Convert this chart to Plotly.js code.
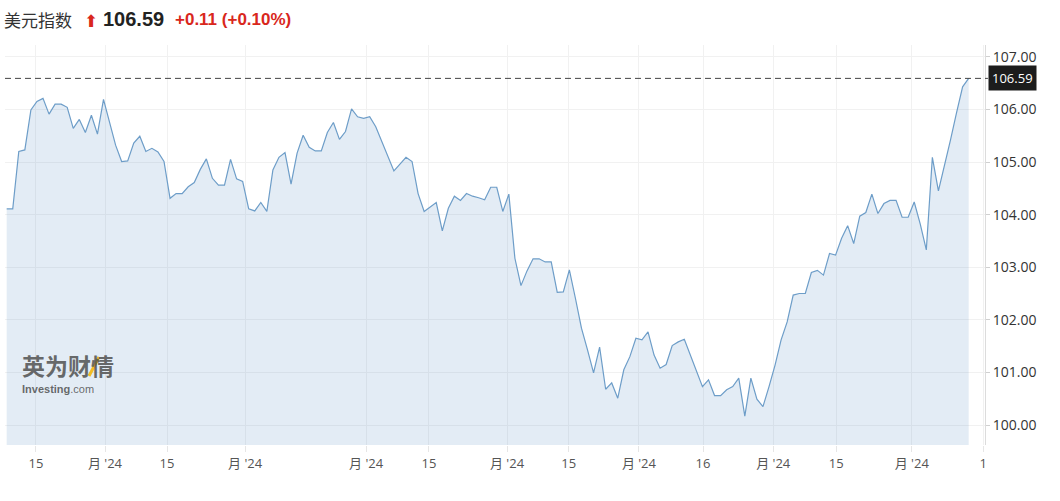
<!DOCTYPE html>
<html>
<head>
<meta charset="utf-8">
<script src="https://cdn.plot.ly/plotly-3.0.1.min.js"></script>
<style>
  html, body { margin: 0; padding: 0; background: #fff; }
  #chart { width: 1060px; height: 501px; }
</style>
</head>
<body>
<div id="chart"></div>
<script>
// Daily closing values of the US Dollar Index
const values = [
  104.11, 104.11, 105.20, 105.23, 105.99, 106.15, 106.21, 105.91, 106.10, 106.10,
  106.04, 105.64, 105.81, 105.56, 105.89, 105.53, 106.19, 105.77, 105.32, 105.01,
  105.02, 105.36, 105.49, 105.20, 105.26, 105.19, 105.01, 104.31, 104.40, 104.40,
  104.53, 104.61, 104.86, 105.06, 104.69, 104.56, 104.56, 105.05, 104.68, 104.63,
  104.11, 104.07, 104.23, 104.06, 104.85, 105.09, 105.18, 104.58, 105.17, 105.51,
  105.28, 105.21, 105.21, 105.56, 105.75, 105.43, 105.58, 106.01, 105.86, 105.83,
  105.86, 105.67, 105.39, 105.10, 104.83, 104.96, 105.09, 105.01, 104.40, 104.06,
  104.15, 104.23, 103.69, 104.12, 104.35, 104.27, 104.40, 104.35, 104.32, 104.28,
  104.52, 104.52, 104.06, 104.39, 103.17, 102.65, 102.93, 103.16, 103.16, 103.10,
  103.10, 102.52, 102.53, 102.95, 102.41, 101.84, 101.43, 100.99, 101.48, 100.68,
  100.80, 100.51, 101.05, 101.30, 101.65, 101.62, 101.77, 101.33, 101.08, 101.15,
  101.51, 101.58, 101.63, 101.33, 101.06, 100.73, 100.86, 100.56, 100.56, 100.67,
  100.73, 100.89, 100.17, 100.89, 100.49, 100.35, 100.73, 101.14, 101.62, 101.96,
  102.47, 102.50, 102.50, 102.90, 102.94, 102.85, 103.26, 103.23, 103.55, 103.79,
  103.45, 103.97, 104.04, 104.39, 104.02, 104.21, 104.27, 104.27, 103.95, 103.95,
  104.24, 103.82, 103.33, 105.09, 104.45, 104.91, 105.42, 105.94, 106.43, 106.59
];

// x-axis tick positions (in trading-day index units) and their labels
const tickPositions = [4.84, 16.25, 26.5, 39.4, 59.4, 69.8, 82.7, 92.9, 104.5, 115.1, 126.7, 137.1, 149.6, 161.4];
const tickLabels = ['15', "月 '24", '15', "月 '24", "月 '24", '15', "月 '24", '15', "月 '24", '16', "月 '24", '15', "月 '24", '1'];

// y-axis ticks
const yTicks = [100, 101, 102, 103, 104, 105, 106, 107];

// header texts
const indexName = '美元指数';
const lastPrice = values[values.length - 1];
const changeText = '+0.11 (+0.10%)';

const xs = values.map((_, i) => i);

const W = 1060, H = 501;
const M = { l: 5, r: 75, t: 45, b: 56 };
const PW = W - M.l - M.r, PH = H - M.t - M.b;
const px = x => (x - M.l) / PW;
const py = y => (H - M.b - y) / PH;

const trace = {
  x: xs,
  y: values,
  type: 'scatter',
  mode: 'lines',
  line: { color: '#6d9dc8', width: 1.2 },
  fill: 'tozeroy',
  fillcolor: 'rgba(70,130,190,0.15)',
  hoverinfo: 'skip'
};

const redColor = '#d9271c';
const CJK = '"Noto Sans CJK SC", "Noto Sans", sans-serif';
const NUM = '"Liberation Sans", Arial, sans-serif';

const layout = {
  width: W,
  height: H,
  margin: M,
  paper_bgcolor: '#ffffff',
  plot_bgcolor: '#ffffff',
  showlegend: false,
  xaxis: {
    range: [-0.28, 161.7],
    tickmode: 'array',
    tickvals: tickPositions,
    ticktext: tickLabels,
    showgrid: true,
    gridcolor: '#f1f1f1',
    gridwidth: 1,
    zeroline: false,
    showline: false,
    ticks: 'outside',
    ticklen: 6,
    tickcolor: '#e6e6e6',
    tickfont: { family: '"Open Sans", ' + CJK, size: 13, color: '#555' },
    fixedrange: true
  },
  yaxis: {
    side: 'right',
    range: [99.62, 99.62 + PH / 52.6],
    tickmode: 'array',
    tickvals: yTicks,
    tickformat: '.2f',
    showgrid: true,
    gridcolor: '#f1f1f1',
    gridwidth: 1,
    zeroline: false,
    showline: true,
    linecolor: '#dcdcdc',
    linewidth: 1,
    ticks: 'outside',
    ticklen: 4,
    tickcolor: '#d0d0d0',
    tickfont: { family: '"Open Sans", sans-serif', size: 14, color: '#333' },
    fixedrange: true
  },
  shapes: [
    {
      type: 'line', xref: 'paper', yref: 'y',
      x0: 0, x1: 1.003, y0: lastPrice, y1: lastPrice,
      line: { color: '#444', width: 1, dash: '6px,4px' }
    },
    {
      type: 'line', xref: 'paper', yref: 'paper',
      x0: px(89), y0: py(376), x1: px(99), y1: py(357),
      line: { color: 'rgba(245,180,0,0.85)', width: 3 }
    }
  ],
  annotations: [
    {
      xref: 'paper', yref: 'paper', x: px(2), y: py(19), xanchor: 'left', yanchor: 'middle',
      text: indexName, showarrow: false,
      font: { family: CJK, size: 17, color: '#333' }
    },
    {
      xref: 'paper', yref: 'paper', x: px(82), y: py(21), xanchor: 'left', yanchor: 'middle',
      text: '⬆', showarrow: false,
      font: { family: '"DejaVu Sans", sans-serif', size: 17, color: redColor }
    },
    {
      xref: 'paper', yref: 'paper', x: px(101), y: py(19), xanchor: 'left', yanchor: 'middle',
      text: '<b>' + lastPrice.toFixed(2) + '</b>', showarrow: false,
      font: { family: NUM, size: 20, color: '#222' }
    },
    {
      xref: 'paper', yref: 'paper', x: px(173), y: py(19), xanchor: 'left', yanchor: 'middle',
      text: '<b>' + changeText + '</b>', showarrow: false,
      font: { family: NUM, size: 17, color: redColor }
    },
    {
      xref: 'paper', yref: 'y', x: 1, y: lastPrice, xanchor: 'left', yanchor: 'middle',
      xshift: 3,
      text: lastPrice.toFixed(2), showarrow: false,
      bgcolor: '#1c1c1c', borderpad: 3,
      font: { family: '"Open Sans", sans-serif', size: 13, color: '#ffffff' }
    },
    {
      xref: 'paper', yref: 'paper', x: px(21), y: py(365), xanchor: 'left', yanchor: 'middle',
      text: '<b>英为财情</b>', showarrow: false, borderpad: 0,
      font: { family: CJK, size: 23, color: 'rgba(80,80,80,0.85)' }
    },
    {
      xref: 'paper', yref: 'paper', x: px(21), y: py(389), xanchor: 'left', yanchor: 'middle',
      text: '<b>Investing</b>.com', showarrow: false, borderpad: 0,
      font: { family: NUM, size: 11, color: 'rgba(80,80,80,0.85)' }
    }
  ]
};

Plotly.newPlot('chart', [trace], layout, { staticPlot: true, displayModeBar: false });
</script>
</body>
</html>
